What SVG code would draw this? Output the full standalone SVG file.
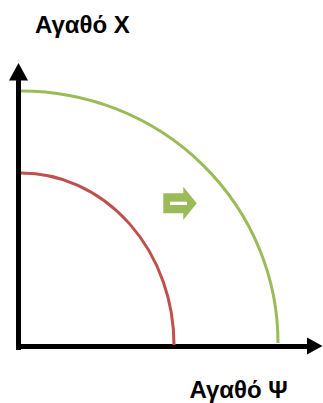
<svg xmlns="http://www.w3.org/2000/svg" width="323" height="403" viewBox="0 0 323 403">
<style>
.lbl{font-family:"Liberation Sans",Arial,sans-serif;font-weight:bold;font-size:24px;fill:#000}
.axis{stroke:#000;stroke-width:5;fill:none}
.curve{fill:none;stroke-width:3}
</style>
<rect width="323" height="403" fill="#fff"/>
<g id="label-x"><text class="lbl" x="35" y="32.5">Αγαθό Χ</text></g>
<g id="label-y"><text class="lbl" x="189.5" y="398">Αγαθό Ψ</text></g>
<g id="connectors">
<line class="axis" x1="18.5" y1="76" x2="18.5" y2="350"/>
<polygon points="18.5,63 9,80.5 28,80.5" fill="#000"/>
<line class="axis" x1="18" y1="346.5" x2="309" y2="346.5"/>
<polygon points="322.5,346 307,337.5 307,354.5" fill="#000"/>
</g>
<g id="curve-green"><path class="curve" stroke="#9BBB59" d="M21,91 A257,252 0 0 1 278,343"/></g>
<g id="curve-red"><path class="curve" stroke="#C0504D" d="M21,173 A153,172 0 0 1 174,345"/></g>
<g id="shift-arrow">
<polygon points="163.3,193.3 183.3,193.3 183.3,186.7 196.7,203.3 183.3,220 183.3,213.3 163.3,213.3" fill="#9BBB59"/>
<rect x="170" y="201.7" width="17" height="3.3" fill="#fff"/>
</g>
</svg>
